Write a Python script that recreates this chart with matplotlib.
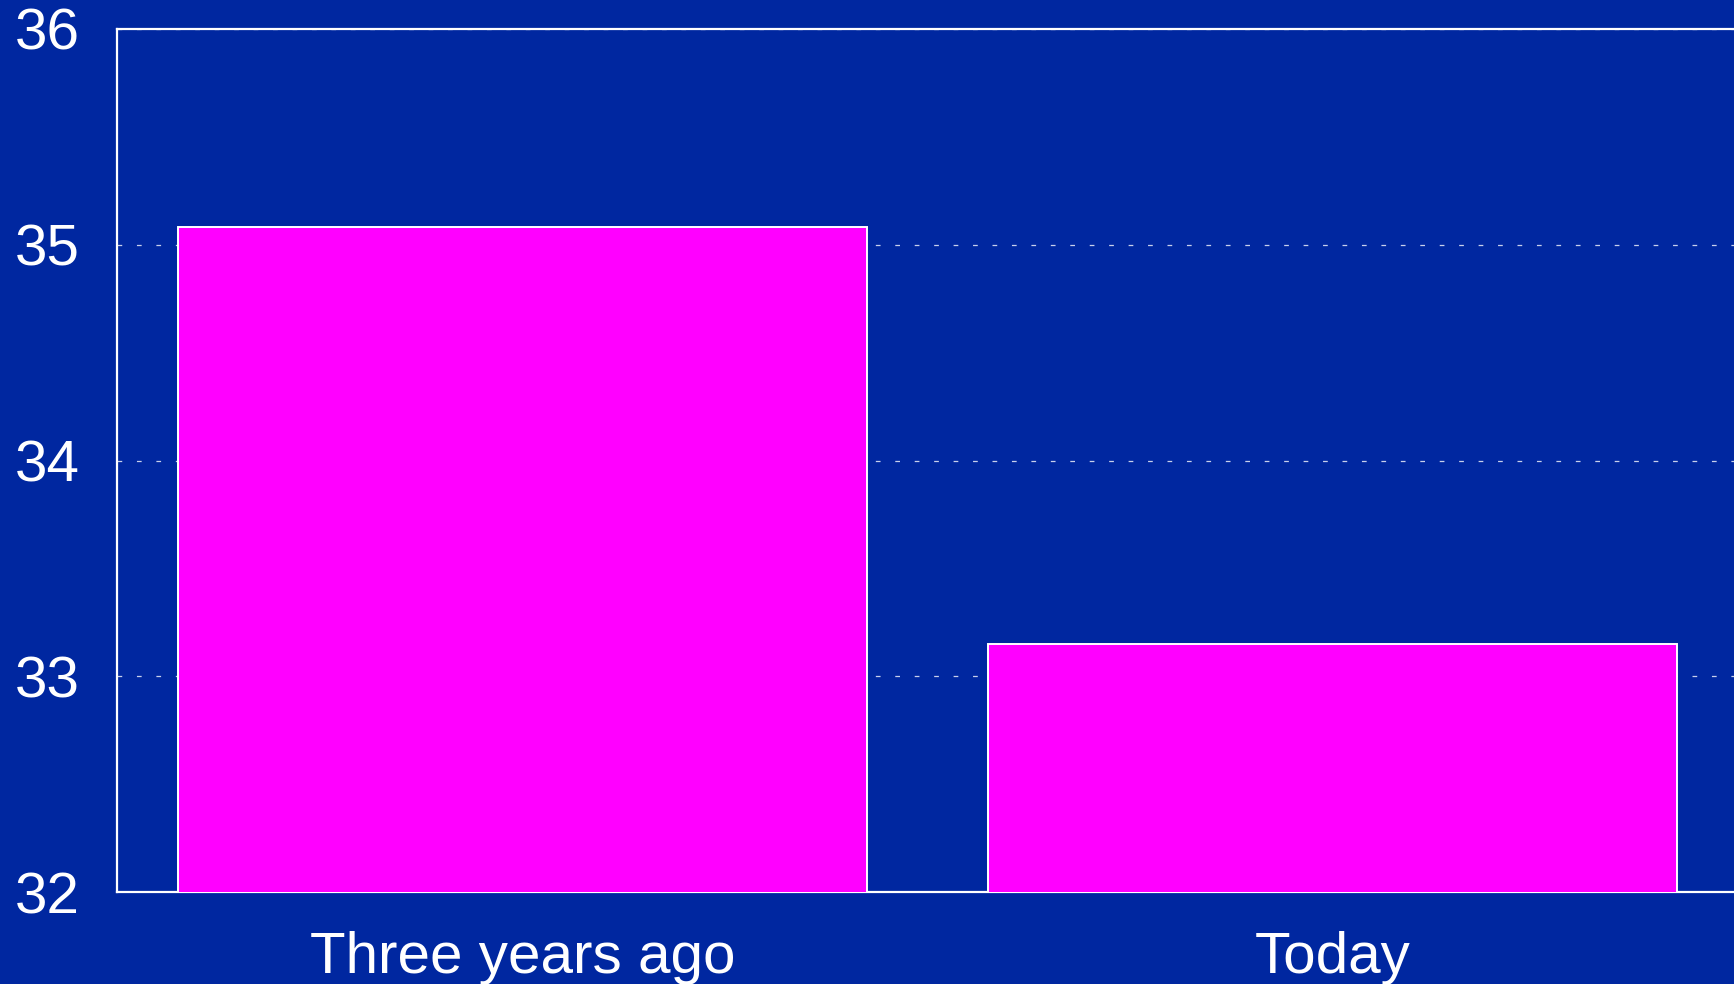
import matplotlib
matplotlib.use("Agg")
import matplotlib.pyplot as plt

categories = ["Three years ago", "Today"]
values = [35.08, 33.15]
y_ticks = [32, 33, 34, 35, 36]

bg = "#0027a0"
bar_color = "#ff00ff"

plt.rcParams["font.family"] = ["Liberation Sans", "DejaVu Sans"]
plt.rcParams["lines.scale_dashes"] = False

fig = plt.figure(figsize=(17.34, 9.84), dpi=100, facecolor=bg)
ax = fig.add_axes([117 / 1734, 1 - 892 / 984, 1621 / 1734, 863 / 984])
ax.set_facecolor(bg)

x = range(len(categories))
ax.bar(x, values, width=0.85, color=bar_color, edgecolor="white", linewidth=1.4, zorder=3)

ax.set_xlim(-0.5, 1.5)
ax.set_ylim(32, 36)
ax.set_yticks(y_ticks)
ax.set_xticks(list(x))
ax.set_xticklabels(categories)

ax.yaxis.grid(True, color="#c8d0ec", linewidth=0.9, linestyle=(0, (3.4, 10.6)), zorder=1)
ax.set_axisbelow(True)

ax.tick_params(axis="both", length=0, labelsize=42, labelcolor="white")
ax.tick_params(axis="y", pad=27)
ax.tick_params(axis="x", pad=28)

for side in ["left", "top", "bottom"]:
    ax.spines[side].set_color("white")
    ax.spines[side].set_linewidth(1.6)
ax.spines["right"].set_visible(False)

fig.savefig("out.png", dpi=100, facecolor=bg)
